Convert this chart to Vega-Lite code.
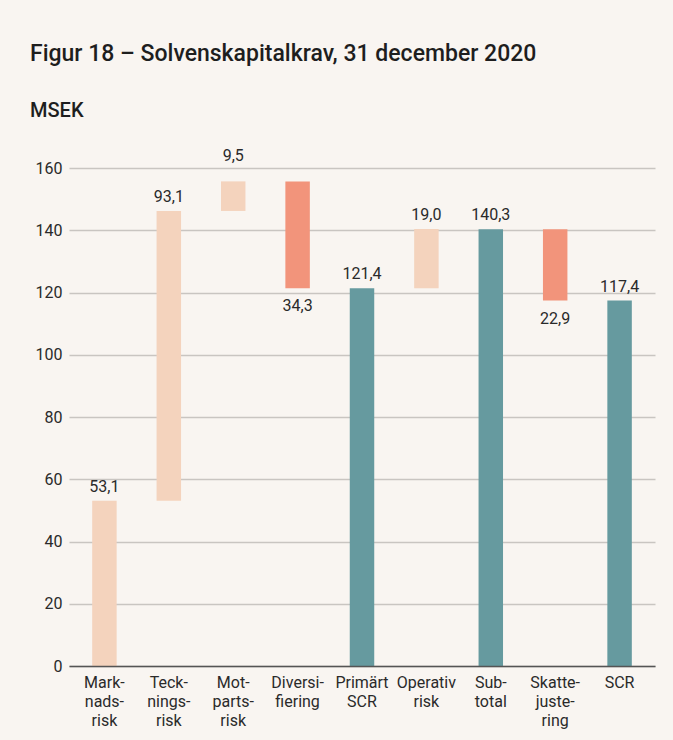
{
  "$schema": "https://vega.github.io/schema/vega-lite/v6.json",
  "width": 586,
  "height": 498,
  "autosize": {"type": "none"},
  "padding": {"left": 69, "top": 168, "right": 18, "bottom": 74},
  "background": "#f9f5f1",
  "title": {
    "text": "Figur 18 – Solvenskapitalkrav, 31 december 2020",
    "subtitle": "MSEK",
    "anchor": "start",
    "frame": "group",
    "dx": -39,
    "font": "Roboto",
    "fontSize": 23,
    "fontWeight": 500,
    "color": "#1e1e1e",
    "subtitleFont": "Roboto",
    "subtitleFontSize": 20,
    "subtitleFontWeight": 500,
    "subtitleColor": "#1e1e1e",
    "subtitlePadding": 35,
    "offset": 27
  },
  "config": {"view": {"stroke": null}},
  "data": {
    "values": [
      {"cat": "Mark- nads- risk", "start": 0, "end": 53.1, "amount": 53.1, "kind": "up"},
      {"cat": "Teck- nings- risk", "start": 53.1, "end": 146.2, "amount": 93.1, "kind": "up"},
      {"cat": "Mot- parts- risk", "start": 146.2, "end": 155.7, "amount": 9.5, "kind": "up"},
      {"cat": "Diversi- fiering", "start": 155.7, "end": 121.4, "amount": 34.3, "kind": "down"},
      {"cat": "Primärt SCR", "start": 0, "end": 121.4, "amount": 121.4, "kind": "total"},
      {"cat": "Operativ risk", "start": 121.4, "end": 140.4, "amount": 19.0, "kind": "up"},
      {"cat": "Sub- total", "start": 0, "end": 140.3, "amount": 140.3, "kind": "total"},
      {"cat": "Skatte- juste- ring", "start": 140.3, "end": 117.4, "amount": 22.9, "kind": "down"},
      {"cat": "SCR", "start": 0, "end": 117.4, "amount": 117.4, "kind": "total"}
    ]
  },
  "transform": [
    {"calculate": "replace(format(datum.amount, '.1f'), '.', ',')", "as": "txt"}
  ],
  "encoding": {
    "x": {
      "field": "cat",
      "type": "nominal",
      "sort": null,
      "title": null,
      "scale": {"paddingInner": 0.62, "paddingOuter": 0.36},
      "axis": {
        "labelExpr": "split(datum.label, ' ')",
        "labelAngle": 0,
        "labelFont": "Roboto",
        "labelFontSize": 16,
        "labelLineHeight": 19,
        "labelColor": "#2a2a2a",
        "labelPadding": 8,
        "labelBaseline": "top",
        "ticks": false,
        "domainColor": "#555555",
        "domainWidth": 1.5,
        "zindex": 1
      }
    }
  },
  "layer": [
    {
      "mark": {"type": "bar"},
      "encoding": {
        "y": {
          "field": "start",
          "type": "quantitative",
          "scale": {"domain": [0, 160]},
          "title": null,
          "axis": {
            "values": [0, 20, 40, 60, 80, 100, 120, 140, 160],
            "domain": false,
            "ticks": false,
            "labelFont": "Roboto",
            "labelFontSize": 16,
            "labelColor": "#2a2a2a",
            "labelPadding": 7,
            "gridColor": "#c9c5c1",
            "gridWidth": 1.5
          }
        },
        "y2": {"field": "end"},
        "color": {
          "field": "kind",
          "type": "nominal",
          "scale": {"domain": ["up", "down", "total"], "range": ["#f4d3bd", "#f2947b", "#669a9f"]},
          "legend": null
        }
      }
    },
    {
      "transform": [{"filter": "datum.kind != 'down' && datum.cat != 'Mot- parts- risk'"}],
      "mark": {"type": "text", "font": "Roboto", "fontSize": 16, "color": "#2a2a2a", "baseline": "middle", "dy": -14},
      "encoding": {"y": {"field": "end", "type": "quantitative"}, "text": {"field": "txt"}}
    },
    {
      "transform": [{"filter": "datum.cat == 'Mot- parts- risk'"}],
      "mark": {"type": "text", "font": "Roboto", "fontSize": 16, "color": "#2a2a2a", "baseline": "middle", "dy": -25},
      "encoding": {"y": {"field": "end", "type": "quantitative"}, "text": {"field": "txt"}}
    },
    {
      "transform": [{"filter": "datum.kind == 'down'"}],
      "mark": {"type": "text", "font": "Roboto", "fontSize": 16, "color": "#2a2a2a", "baseline": "middle", "dy": 18},
      "encoding": {"y": {"field": "end", "type": "quantitative"}, "text": {"field": "txt"}}
    }
  ]
}
